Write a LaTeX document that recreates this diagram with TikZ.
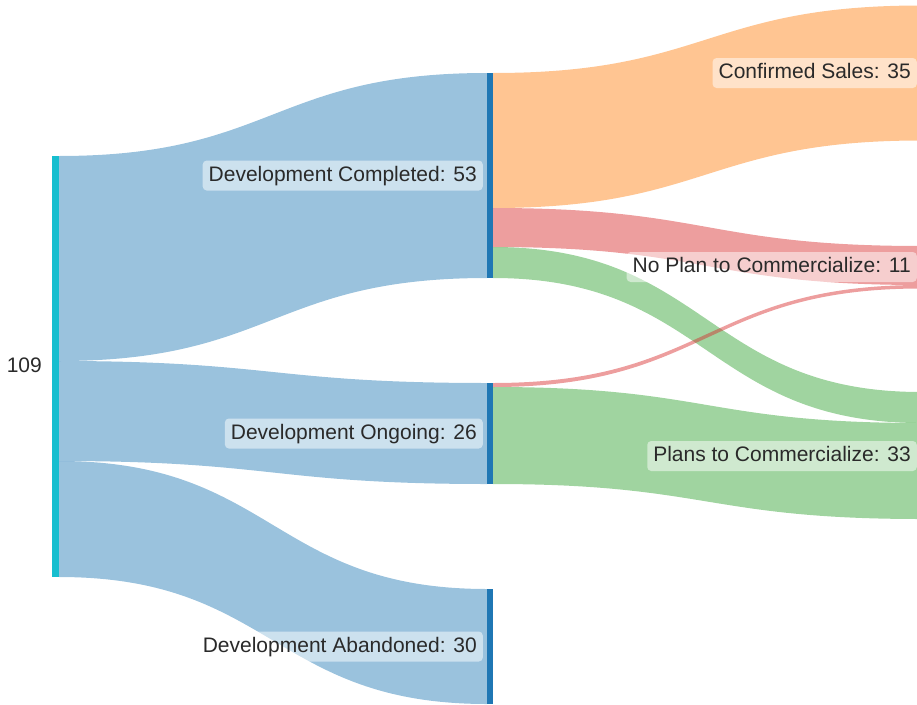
\documentclass[tikz,border=0pt]{standalone}
\usepackage{fontspec}
\setmainfont{Liberation Sans}
\definecolor{cblue}{HTML}{1F77B4}
\definecolor{ccyan}{HTML}{17BECF}
\definecolor{corange}{HTML}{FF7F0E}
\definecolor{cred}{HTML}{D62728}
\definecolor{cgreen}{HTML}{2CA02C}
\definecolor{ctext}{HTML}{2A2A2A}
\newcommand\sankeyband[7]{%
  \fill[#7,fill opacity=0.45] (#1,#2) .. controls ({(#1+#4)/2},#2) and ({(#1+#4)/2},#5) .. (#4,#5)
    -- (#4,#6) .. controls ({(#1+#4)/2},#6) and ({(#1+#4)/2},#3) .. (#1,#3) -- cycle;}
\tikzset{
  lbl/.style={font=\fontsize{21}{21}\selectfont, text=ctext, fill=white, fill opacity=0.5, text opacity=1,
    rounded corners=4pt, inner xsep=6pt, inner ysep=5.5pt, text height=15pt, text depth=4pt, anchor=east},
  barnode/.style={inner sep=0pt, minimum width=6pt, anchor=north west, draw=none},
}
\begin{document}
\begin{tikzpicture}[x=1pt,y=-1pt]
\useasboundingbox (0,0) rectangle (917,704);
\clip (0,0) rectangle (917,704);
% bands source -> middle
\sankeyband{59}{156}{361}{487}{73}{278}{cblue}
\sankeyband{59}{361}{461}{487}{383}{484}{cblue}
\sankeyband{59}{461}{577}{487}{589}{704}{cblue}
% bands middle -> targets
\sankeyband{493}{73}{208}{921}{5.5}{140.5}{corange}
\sankeyband{493}{208}{247}{921}{246}{285}{cred}
\sankeyband{493}{247}{278}{921}{392}{423}{cgreen}
\sankeyband{493}{387}{484}{921}{423}{519}{cgreen}
\sankeyband{493}{383}{387}{921}{285}{288.5}{cred}
% bars
\node[barnode, fill=ccyan, minimum width=7pt, minimum height=421pt] (src) at (52,156) {};
\node[barnode, fill=cblue, minimum height=205pt] (comp) at (487,73) {};
\node[barnode, fill=cblue, minimum height=101pt] (ong) at (487,383) {};
\node[barnode, fill=cblue, minimum height=115pt] (aband) at (487,589) {};
% labels
\node[lbl, fill opacity=0] (lsrc) at (48,367) {109};
\node[lbl] (lcomp) at (483,175.5) {Development Completed: 53};
\node[lbl] (long) at (483,433.5) {Development Ongoing: 26};
\node[lbl] (laband) at (483,646.5) {Development Abandoned: 30};
\node[lbl] (lconf) at (917,73) {Confirmed Sales: 35};
\node[lbl] (lnop) at (917,267) {No Plan to Commercialize: 11};
\node[lbl] (lplan) at (917,456) {Plans to Commercialize: 33};
\end{tikzpicture}
\end{document}
